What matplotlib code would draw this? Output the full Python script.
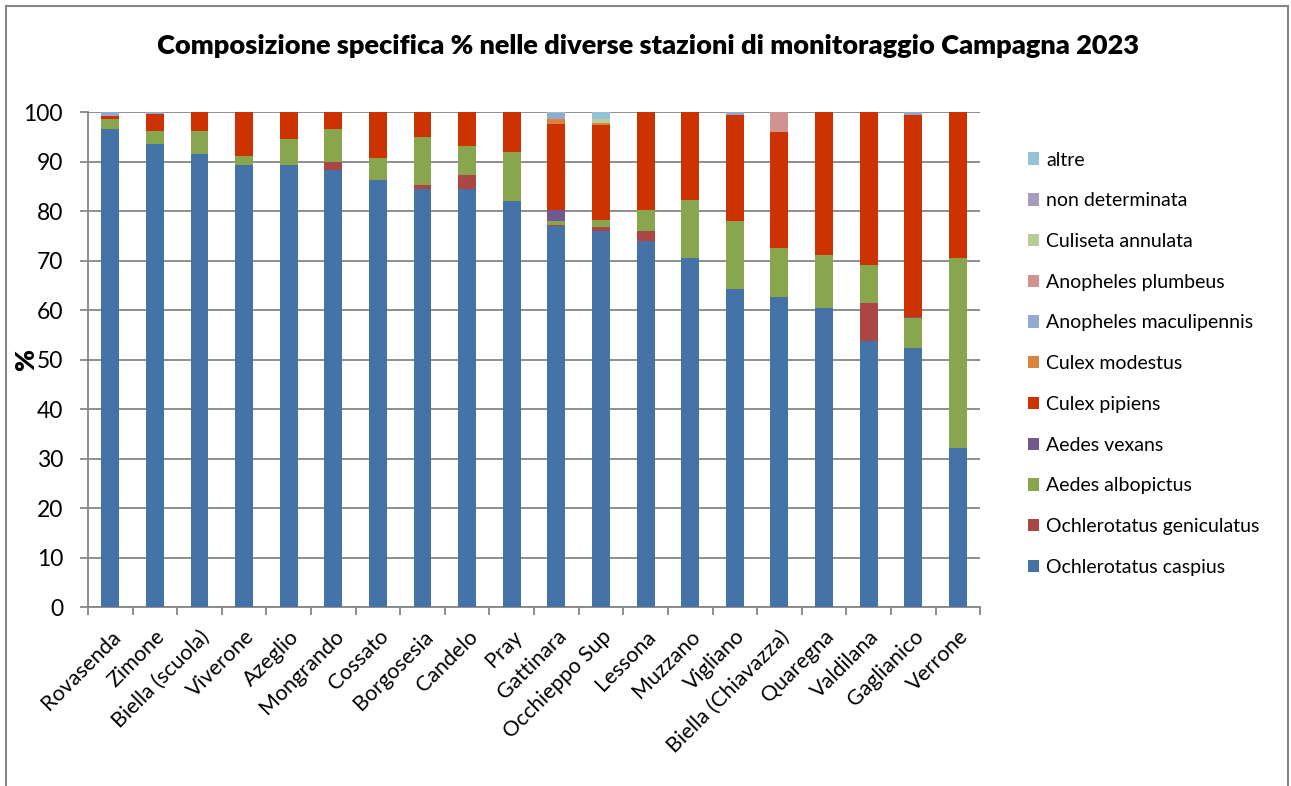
import numpy as np
import matplotlib
matplotlib.use("Agg")
import matplotlib.pyplot as plt
from matplotlib.patches import Rectangle

plt.rcParams['font.family'] = ['Lato', 'DejaVu Sans']

# stazioni di monitoraggio
stazioni = ["Rovasenda", "Zimone", "Biella (scuola)", "Viverone", "Azeglio",
            "Mongrando", "Cossato", "Borgosesia", "Candelo", "Pray",
            "Gattinara", "Occhieppo Sup", "Lessona", "Muzzano", "Vigliano",
            "Biella (Chiavazza)", "Quaregna", "Valdilana", "Gaglianico", "Verrone"]

# composizione % per specie
och_caspius = [96.6, 93.5, 91.5, 89.3, 89.3, 88.3, 86.3, 84.4, 84.4, 82.0,
               77.0, 76.0, 73.9, 70.5, 64.2, 62.6, 60.4, 53.7, 52.3, 32.1]
och_geniculatus = [0, 0, 0, 0, 0, 1.6, 0, 0.9, 2.9, 0,
                   0.2, 0.8, 2.1, 0, 0, 0, 0, 7.7, 0, 0]
aedes_albopictus = [2.0, 2.7, 4.7, 1.8, 5.2, 6.7, 4.4, 9.7, 5.8, 9.9,
                    0.8, 1.4, 4.2, 11.7, 13.8, 9.9, 10.7, 7.7, 6.1, 38.4]
aedes_vexans = [0, 0, 0, 0, 0, 0, 0, 0, 0, 0,
                2.2, 0, 0, 0, 0, 0, 0, 0, 0.2, 0]
culex_pipiens = [0.5, 3.4, 3.8, 8.9, 5.5, 3.4, 9.3, 5.0, 6.9, 8.1,
                 17.4, 19.2, 19.8, 17.8, 21.4, 23.5, 28.9, 30.9, 40.8, 29.5]
culex_modestus = [0, 0, 0, 0, 0, 0, 0, 0, 0, 0,
                  1.0, 0.4, 0, 0, 0, 0, 0, 0, 0, 0]
anoph_maculipennis = [0.9, 0.4, 0, 0, 0, 0, 0, 0, 0, 0,
                      1.2, 0, 0, 0, 0.6, 0, 0, 0, 0.6, 0]
anoph_plumbeus = [0, 0, 0, 0, 0, 0, 0, 0, 0, 0,
                  0, 0, 0, 0, 0, 4.0, 0, 0, 0, 0]
culiseta_annulata = [0, 0, 0, 0, 0, 0, 0, 0, 0, 0,
                     0, 0.8, 0, 0, 0, 0, 0, 0, 0, 0]
non_determinata = [0, 0, 0, 0, 0, 0, 0, 0, 0, 0,
                   0, 0, 0, 0, 0, 0, 0, 0, 0, 0]
altre = [0, 0, 0, 0, 0, 0, 0, 0, 0, 0,
         0.2, 1.4, 0, 0, 0, 0, 0, 0, 0, 0]

serie = [
    ("Ochlerotatus caspius", och_caspius, "#4572A7"),
    ("Ochlerotatus geniculatus", och_geniculatus, "#AA4643"),
    ("Aedes albopictus", aedes_albopictus, "#89A54E"),
    ("Aedes vexans", aedes_vexans, "#71588F"),
    ("Culex pipiens", culex_pipiens, "#CC3300"),
    ("Culex modestus", culex_modestus, "#DB843D"),
    ("Anopheles maculipennis", anoph_maculipennis, "#93A9CF"),
    ("Anopheles plumbeus", anoph_plumbeus, "#D19392"),
    ("Culiseta annulata", culiseta_annulata, "#B9CD96"),
    ("non determinata", non_determinata, "#A99BBD"),
    ("altre", altre, "#92C3D4"),
]

grey = "#868686"
fig = plt.figure(figsize=(12.91, 7.86), dpi=100)
ax = fig.add_axes([0.0682, 0.2277, 0.691, 0.6298])

x = np.arange(len(stazioni))
bottom = np.zeros(len(stazioni))
handles = []
for nome, vals, col in serie:
    vals = np.array(vals, dtype=float)
    h = ax.bar(x, vals, width=0.4, bottom=bottom, color=col, label=nome, zorder=3)
    handles.append(h)
    bottom += vals

ax.set_xlim(-0.5, len(stazioni) - 0.5)
ax.set_ylim(0, 100)
ax.set_yticks(range(0, 101, 10))
ax.yaxis.grid(True, color=grey, linewidth=1.3, zorder=0)
ax.tick_params(axis='y', labelsize=16.5, length=6, width=1.3, color=grey, pad=12)

ax.set_xticks(x)
ax.set_xticklabels(stazioni, rotation=45, ha='right', rotation_mode='anchor', fontsize=15.5)
ax.tick_params(axis='x', which='major', length=0, pad=14)
ax.set_xticks(np.arange(-0.5, len(stazioni)), minor=True)
ax.tick_params(axis='x', which='minor', length=6, width=1.3, color=grey)

for s in ['top', 'right']:
    ax.spines[s].set_visible(False)
for s in ['left', 'bottom']:
    ax.spines[s].set_color(grey)
    ax.spines[s].set_linewidth(1.3)

fig.text(0.502, 1 - 46 / 786, "Composizione specifica % nelle diverse stazioni di monitoraggio Campagna 2023",
         ha='center', va='center', fontsize=19.5, fontweight='heavy')
fig.text(26 / 1291, 1 - 360 / 786, "%", rotation=90, ha='center', va='center',
         fontsize=19, fontweight='heavy')

fig.legend(handles[::-1], [s[0] for s in serie][::-1], loc='upper left',
           bbox_to_anchor=(1010 / 1291, 1 - 134 / 786), frameon=False,
           fontsize=14, handlelength=0.6, handleheight=0.6, handletextpad=0.35,
           labelspacing=1.22)

# cornice del grafico
fig.patches.append(Rectangle((6 / 1291, -0.05), 1282 / 1291, 1.05 - 6 / 786,
                             transform=fig.transFigure, fill=False,
                             edgecolor=grey, linewidth=1.5))

fig.savefig("out.png", dpi=100)
